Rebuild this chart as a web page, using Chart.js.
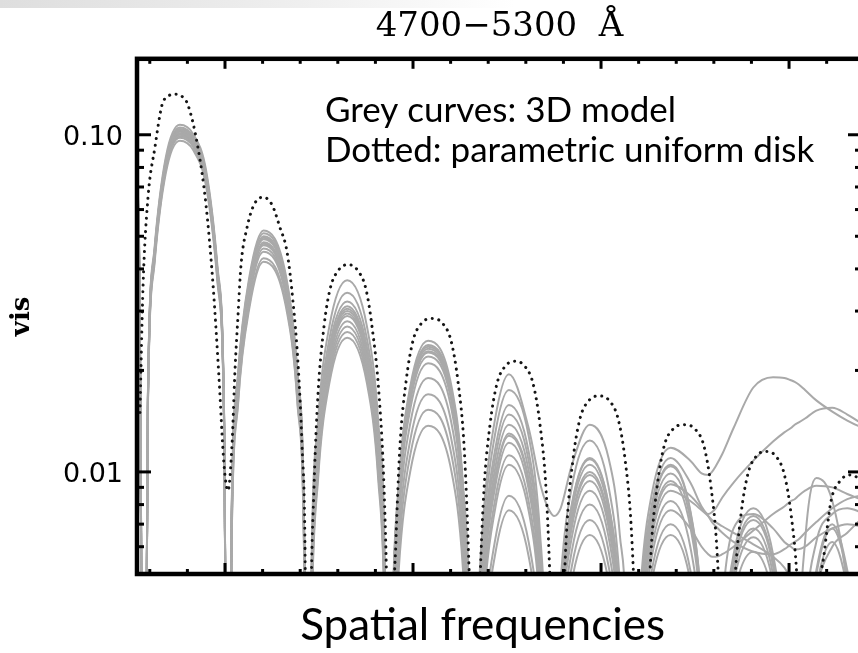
<!DOCTYPE html>
<html><head><meta charset="utf-8">
<script src="https://cdn.jsdelivr.net/npm/chart.js@4.4.1/dist/chart.umd.min.js"></script>
<style>
html,body{margin:0;padding:0;overflow:hidden;background:#fff;width:858px;height:653px}
#wrap{position:relative;width:870px;height:653px}
#band{position:absolute;left:0;top:0;width:858px;height:8px;background:linear-gradient(to right,#dedede,#efefef 35%,#fff 60%)}
canvas{position:absolute;left:0;top:0}
</style></head>
<body><div id="wrap"><div id="band"></div><canvas id="c" width="870" height="653"></canvas></div>
<script>
// ---- text ----
const chartTitle = '4700\u22125300  \u00C5';
const xTitle = 'Spatial frequencies';
const yTitle = 'vis';
const noteLines = ['Grey curves: 3D model', 'Dotted: parametric uniform disk'];

// ---- axes ----
const freqMin = 5.32, freqMax = 43.88;
const visMin = 0.00498, visMax = 0.168;
const freqMajorTicks = [10, 20, 30, 40];
const freqMinorTicks = [6, 8, 12, 14, 16, 18, 22, 24, 26, 28, 32, 34, 36, 38, 42];
const visTickValues = [0.01, 0.1];
const visTickLabels = ['0.01', '0.10'];
const visMinorTicks = [0.006, 0.007, 0.008, 0.009, 0.02, 0.03, 0.04, 0.05, 0.06, 0.07, 0.08, 0.09];

// ---- parametric uniform disk (dotted) ----
const udFreq = [5.479, 5.638, 5.904, 6.277, 6.649, 6.968, 7.34, 7.713, 8.032, 8.564, 8.989, 9.362, 9.681, 9.947, 10.16,
 10.372, 10.532, 10.691, 10.851, 11.17, 11.543, 12.021, 12.5, 12.926, 13.298, 13.617, 13.883, 14.096, 14.255, 14.415,
 14.574, 14.734, 14.947, 15.266, 15.585, 16.011, 16.543, 17.074, 17.5, 17.819, 18.191, 18.457, 18.617, 18.83,
 18.936, 19.096, 19.309, 19.628, 20.0, 20.479, 21.011, 21.543, 22.021, 22.394, 22.713, 22.926, 23.085, 23.245,
 23.404, 23.564, 23.777, 24.096, 24.468, 24.947, 25.426, 25.904, 26.383, 26.755, 27.074, 27.287, 27.447, 27.66,
 27.819, 27.979, 28.191, 28.511, 28.883, 29.362, 29.894, 30.426, 30.904, 31.277, 31.596, 31.809, 31.968, 32.128,
 32.287, 32.447, 32.66, 32.979, 33.351, 33.83, 34.415, 35.0, 35.479, 35.851, 36.17, 36.383, 36.489, 36.596,
 36.755, 36.915, 37.128, 37.447, 37.819, 38.298, 38.777, 39.255, 39.734, 40.106, 40.426, 40.638, 40.798, 41.011,
 41.17, 41.33, 41.543, 41.862, 42.234, 42.713, 43.245, 43.777, 44.309];
const udVis = [.015, .035, .065, .092, .1225, .13, .132, .13, .1225, .0915, .062, .036, .019, .0105, .0088,
 .012, .02, .029, .041, .053, .062, .0653, .062, .053, .045, .032, .021, .012, .006, .0004,
 .004, .009, .017, .027, .0348, .0395, .0412, .0395, .0348, .027, .017, .009, .004, .0004,
 .0029, .0063, .012, .0185, .0245, .0277, .0285, .0277, .0245, .0185, .012, .0063, .0029, .0004,
 .0021, .0047, .0089, .0138, .0183, .0207, .0213, .0207, .0183, .0138, .0089, .0047, .0021, .0004,
 .0017, .0037, .007, .0109, .0144, .0163, .0168, .0163, .0144, .0109, .007, .0037, .0017, .0004,
 .0014, .003, .0058, .009, .0119, .0134, .0138, .0134, .0119, .009, .0058, .003, .0014, .0004,
 .0012, .0025, .0048, .0075, .0099, .0112, .0115, .0112, .0099, .0075, .0048, .0025, .0012, .0004,
 .001, .0021, .0041, .0057, .0082, .0094, .0098, .0095, .0088];

// ---- 3D model curves (grey), shared frequency grid ----
const modelFreq = [5.3, 5.45,
 5.7, 5.9, 6.25, 6.85, 7.6, 8.3, 9.0, 9.6, 9.95,
 10.15, 10.35, 10.7, 11.3, 12.05, 13.25, 13.85, 14.2,
 14.4, 14.6, 14.95, 15.55, 16.5, 17.55, 18.15, 18.5,
 18.7, 18.9, 19.25, 19.85, 20.8, 22.05, 22.65, 23.0,
 23.2, 23.4, 23.75, 24.35, 25.1, 26.15, 26.75, 27.1,
 27.3, 27.5, 27.85, 28.45, 29.4, 30.4, 31.0, 31.35,
 31.55, 31.75, 32.1, 32.7, 33.7, 34.75, 35.35, 35.7,
 35.9, 36.1, 36.45, 37.05, 38.1, 39.15, 39.75, 40.1,
 40.3, 40.5, 40.85, 41.45, 42.3, 43.1, 43.8, 44.5];

const model01 = [.085, .04,
 .0004, .0171, .046, .0856, .107, .1006, .0781, .0407, .0152,
 .0004, .0074, .0198, .038, .052, .038, .0198, .0074,
 .0004, .00525, .0141, .027, .037, .027, .0141, .00525,
 .0004, .00348, .0093, .0179, .0245, .0179, .0093, .00348,
 .0004, .00277, .0074, .0142, .0195, .0135, .0093, .008,
 .0076, .0074, .0078, .0105, .0138, .011, .0065, .003,
 .0004, .0017, .0045, .0086, .0118, .0108, .0099, .0098,
 .01, .0104, .0113, .0135, .0178, .0191, .019, .0187,
 .0185, .0182, .0175, .0163, .0151, .0142, .0136, .0132];
const model02 = [.082, .038,
 .0004, .0168, .0452, .084, .105, .0987, .0767, .0399, .0149,
 .0004, .00724, .0194, .0372, .051, .0372, .0194, .00724,
 .0004, .00483, .0129, .0248, .034, .0248, .0129, .00483,
 .0004, .00338, .00904, .0174, .0238, .0174, .00904, .00338,
 .0004, .00249, .00665, .0128, .0175, .0128, .00665, .00249,
 .0004, .00176, .00471, .00905, .0124, .00905, .00471, .00176,
 .0004, .00156, .00418, .008, .011, .0093, .0079, .0075,
 .0076, .0078, .0084, .0093, .0108, .0123, .0131, .0135,
 .0138, .014, .0144, .0152, .0155, .0148, .014, .0135];
const model03 = [.08, .037,
 .0004, .0166, .0447, .0832, .104, .0978, .0759, .0395, .0148,
 .0004, .0071, .019, .0365, .05, .0365, .019, .0071,
 .0004, .00454, .0122, .0234, .032, .0234, .0122, .00454,
 .0004, .00329, .00882, .0169, .0232, .0169, .00882, .00329,
 .0004, .00224, .006, .0115, .0158, .0115, .006, .00224,
 .0004, .00156, .00418, .00803, .011, .00803, .00418, .00156,
 .0004, .00148, .00395, .00759, .0104, .00759, .00395, .00148,
 .0004, .00111, .00296, .00569, .0078, .00569, .00296, .00111,
 .0004, .0025, .0062, .0096, .0082, .0045, .0015, .0004];
const model04 = [.083, .039,
 .0004, .0165, .0443, .0824, .103, .0968, .0752, .0391, .0146,
 .0004, .00696, .0186, .0358, .049, .0358, .0186, .00696,
 .0004, .0044, .0118, .0226, .031, .0226, .0118, .0044,
 .0004, .00321, .00859, .0165, .0226, .0165, .00859, .00321,
 .0004, .0021, .00562, .0108, .0148, .0108, .00562, .0021,
 .0004, .00149, .00399, .00767, .0105, .00767, .00399, .00149,
 .0004, .00141, .00376, .00723, .0099, .00723, .00376, .00141,
 .0004, .0015, .004, .0068, .0075, .0068, .0062, .006,
 .0059, .0059, .006, .0064, .0068, .007, .0069, .0067];
const model05 = [.079, .036,
 .0004, .0163, .0439, .0816, .102, .0959, .0745, .0388, .0145,
 .0004, .00682, .0182, .035, .048, .035, .0182, .00682,
 .0004, .00426, .0114, .0219, .030, .0219, .0114, .00426,
 .0004, .00312, .00836, .0161, .022, .0161, .00836, .00312,
 .0004, .00196, .00524, .0101, .0138, .0101, .00524, .00196,
 .0004, .00142, .0038, .0073, .01, .0073, .0038, .00142,
 .0004, .00133, .00357, .00686, .0094, .00686, .00357, .00133,
 .0004, .00102, .00274, .00526, .0072, .00526, .00274, .00102,
 .0004, .0012, .0035, .0062, .0075, .0078, .0076, .0073];
const model06 = [.081, .038,
 .0004, .0162, .0434, .0808, .101, .0949, .0737, .0384, .0143,
 .0004, .00667, .0179, .0343, .047, .0343, .0179, .00667,
 .0004, .00412, .011, .0212, .029, .0212, .011, .00412,
 .0004, .00298, .00798, .0153, .021, .0153, .00798, .00298,
 .0004, .00185, .00494, .0095, .013, .0095, .00494, .00185,
 .0004, .00133, .00357, .00686, .0094, .00686, .00357, .00133,
 .0004, .00125, .00334, .00642, .0088, .0082, .0077, .0074,
 .0072, .0071, .0069, .0066, .0061, .0056, .0052, .0048,
 .0045, .004, .003, .0012, .0004, .0015, .0045, .0065];
const model07 = [.078, .035,
 .0004, .016, .043, .08, .1, .094, .073, .038, .0142,
 .0004, .00653, .0175, .0336, .046, .0336, .0175, .00653,
 .0004, .00398, .0106, .0204, .028, .0204, .0106, .00398,
 .0004, .0027, .00722, .0139, .019, .0139, .00722, .0027,
 .0004, .00173, .00464, .0089, .0122, .0089, .00464, .00173,
 .0004, .00125, .00334, .00642, .0088, .00642, .00334, .00125,
 .0004, .00116, .00312, .00599, .0082, .00599, .00312, .00116,
 .0004, .00097, .00258, .00496, .0068, .00496, .00258, .00097,
 .0004, .001, .0027, .0051, .007, .0051, .0027, .001];
const model08 = [.077, .034,
 .0004, .0158, .0426, .0792, .099, .0931, .0723, .0376, .0141,
 .0004, .00639, .0171, .0329, .045, .0329, .0171, .00639,
 .0004, .00383, .0103, .0197, .027, .0197, .0103, .00383,
 .0004, .00241, .00646, .0124, .017, .0124, .00646, .00241,
 .0004, .00149, .00399, .00767, .0105, .00767, .00399, .00149,
 .0004, .00114, .00304, .00584, .008, .00584, .00304, .00114,
 .0004, .0011, .0029, .0056, .0077, .0068, .006, .0057,
 .0056, .0056, .0057, .006, .0067, .0075, .0079, .0082,
 .0083, .0085, .0088, .0091, .009, .0086, .0083, .008];
const model09 = [.076, .034,
 .0004, .0157, .0421, .0784, .098, .0921, .0715, .0372, .0139,
 .0004, .0061, .0163, .0314, .043, .0314, .0163, .0061,
 .0004, .00369, .00988, .019, .026, .019, .00988, .00369,
 .0004, .00217, .00581, .0112, .0153, .0112, .00581, .00217,
 .0004, .00121, .00323, .0062, .0085, .0062, .00323, .00121,
 .0004, .00102, .00274, .00526, .0072, .00526, .00274, .00102,
 .0004, .00099, .00266, .00511, .007, .00511, .00266, .00099,
 .0004, .00091, .00243, .00467, .0064, .00467, .00243, .00091,
 .0004, .00088, .00236, .00453, .0062, .00453, .00236, .00088];
const model10 = [.075, .033,
 .0004, .0154, .0413, .0768, .096, .0902, .0701, .0365, .0136,
 .0004, .00596, .016, .0307, .042, .0307, .016, .00596,
 .0004, .00355, .0095, .0183, .025, .0183, .0095, .00355,
 .0004, .00195, .00521, .01, .0137, .01, .00521, .00195,
 .0004, .00109, .00293, .00562, .0077, .00562, .00293, .00109,
 .0004, .00092, .00247, .00475, .0065, .00475, .00247, .00092,
 .0004, .00092, .00247, .00475, .0065, .00475, .00247, .00092,
 .0004, .00082, .0022, .00423, .0058, .00423, .0022, .00082,
 .0004, .0009, .0023, .0044, .006, .0066, .0072, .0076];
const model11 = [.08, .037,
 .0004, .0166, .0445, .0828, .1035, .0973, .0756, .0393, .0147,
 .0004, .00703, .0188, .0361, .0495, .0361, .0188, .00703,
 .0004, .00433, .0116, .0223, .0305, .0223, .0116, .00433,
 .0004, .00334, .00893, .0172, .0235, .0172, .00893, .00334,
 .0004, .00182, .00486, .00934, .0128, .00934, .00486, .00182,
 .0004, .00155, .00414, .00796, .0109, .00796, .00414, .00155,
 .0004, .00149, .00399, .00767, .0105, .00767, .00399, .00149,
 .0004, .00105, .00281, .0054, .0074, .0054, .00281, .00105,
 .0004, .00097, .00258, .00496, .0068, .00496, .00258, .00097];
const model12 = [.079, .036,
 .0004, .0161, .0432, .0804, .1005, .0945, .0734, .0382, .0143,
 .0004, .00675, .0181, .0347, .0475, .0347, .0181, .00675,
 .0004, .00419, .0112, .0215, .0295, .0215, .0112, .00419,
 .0004, .00324, .00866, .0166, .0228, .0166, .00866, .00324,
 .0004, .00159, .00426, .00818, .0112, .00818, .00426, .00159,
 .0004, .00139, .00372, .00715, .0098, .00715, .00372, .00139,
 .0004, .0013, .0035, .0067, .0092, .0085, .0078, .0074,
 .0071, .0069, .0066, .0062, .0058, .0057, .0059, .0061,
 .0062, .0063, .0066, .0071, .0078, .0083, .0085, .0086];

const modelCurves = [model01, model02, model03, model04, model05, model06, model07, model08, model09, model10, model11, model12];

// ---- build ----
const toPts = (xs, ys) => xs.map((x, i) => ({x: x, y: ys[i]}));
const datasets = [{
  label: 'uniform disk',
  data: toPts(udFreq, udVis),
  borderColor: '#151515',
  borderWidth: 3,
  borderDash: [0.1, 6.6],
  borderCapStyle: 'round',
  cubicInterpolationMode: 'monotone',
  pointRadius: 0,
  fill: false
}].concat(modelCurves.map((vals, k) => ({
  label: '3D model ' + (k + 1),
  data: toPts(modelFreq, vals),
  borderColor: '#a9a9a9',
  borderWidth: 2,
  cubicInterpolationMode: 'monotone',
  pointRadius: 0,
  fill: false
})));

const framePlugin = {
  id: 'frame',
  afterDatasetsDraw(chart) {
    const {ctx, chartArea: a, scales} = chart;
    const xs = scales.x, ys = scales.y;
    const seg = (x1, y1, x2, y2) => { ctx.beginPath(); ctx.moveTo(x1, y1); ctx.lineTo(x2, y2); ctx.stroke(); };
    ctx.save();
    ctx.strokeStyle = '#000';
    ctx.lineCap = 'butt';
    ctx.lineWidth = 3;
    visTickValues.forEach(v => { const p = ys.getPixelForValue(v); seg(a.left, p, a.left + 14, p); seg(a.right, p, a.right - 14, p); });
    visMinorTicks.forEach(v => { const p = ys.getPixelForValue(v); seg(a.left, p, a.left + 7, p); seg(a.right, p, a.right - 7, p); });
    freqMajorTicks.forEach(v => { const p = xs.getPixelForValue(v); seg(p, a.top, p, a.top + 10); seg(p, a.bottom, p, a.bottom - 11); });
    freqMinorTicks.forEach(v => { const p = xs.getPixelForValue(v); seg(p, a.top, p, a.top + 5); seg(p, a.bottom, p, a.bottom - 5); });
    ctx.lineWidth = 4.5;
    ctx.strokeRect(a.left, a.top, a.right - a.left, a.bottom - a.top);
    ctx.fillStyle = '#000';
    ctx.font = '35px Lato';
    ctx.textBaseline = 'alphabetic';
    ctx.textAlign = 'left';
    noteLines.forEach((t, i) => ctx.fillText(t, 325, 122 + i * 40));
    ctx.restore();
  }
};

new Chart(document.getElementById('c'), {
  type: 'line',
  data: {datasets: datasets},
  options: {
    responsive: false,
    animation: false,
    devicePixelRatio: 1,
    layout: {padding: {left: 0, top: 0, right: 8, bottom: 0}},
    plugins: {
      legend: {display: false},
      tooltip: {enabled: false},
      title: {display: true, text: chartTitle, fullSize: false, color: '#000',
        font: {family: 'DejaVu Serif', size: 34, weight: 'normal'}, padding: {top: 7, bottom: 11}}
    },
    scales: {
      x: {
        type: 'linear', min: freqMin, max: freqMax,
        afterFit: s => { s.height = 79; },
        grid: {display: false, drawTicks: false}, border: {display: false},
        ticks: {display: false},
        title: {display: true, text: xTitle + '   ', color: '#000', font: {family: 'Lato', size: 44}, padding: {top: 0, bottom: 1}}
      },
      y: {
        type: 'logarithmic', min: visMin, max: visMax,
        afterBuildTicks: s => { s.ticks = visTickValues.map(v => ({value: v})); },
        afterFit: s => { s.width = 137; },
        grid: {display: false, drawTicks: false}, border: {display: false},
        ticks: {autoSkip: false, color: '#000', padding: 14, labelOffset: 3,
          font: {family: 'DejaVu Sans', size: 27},
          callback: v => visTickLabels[visTickValues.indexOf(v)]},
        title: {display: true, text: yTitle, color: '#000', font: {family: 'DejaVu Serif', size: 26, weight: 'bold'}, padding: {top: 7, bottom: 0}}
      }
    }
  },
  plugins: [framePlugin]
});
</script></body></html>
